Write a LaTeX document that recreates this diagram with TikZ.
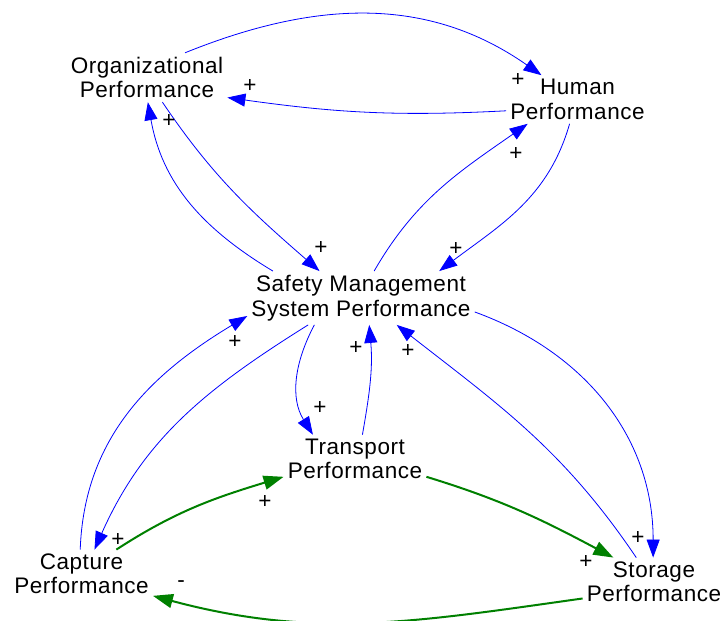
\documentclass[tikz,border=0pt]{standalone}
\usepackage{fontspec}
\setmainfont{Liberation Sans}[LetterSpace=2.5]
\usetikzlibrary{arrows.meta}
\definecolor{loopblue}{RGB}{0,0,255}
\definecolor{loopgreen}{RGB}{0,128,0}
\begin{document}
\begin{tikzpicture}[x=1pt,y=1pt,
    var/.style={align=center,inner sep=4pt,font=\fontsize{22.5}{24.5}\selectfont},
    sign/.style={inner sep=0pt,font=\fontsize{22.5}{24.5}\selectfont},
    link/.style={draw=loopblue,line width=0.8pt,-{Triangle[length=18pt,width=13pt]}},
    flow/.style={draw=loopgreen,line width=2pt,-{Triangle[length=20pt,width=14pt]}}]
      \useasboundingbox (0,0) rectangle (726,621);
      \draw
        (147,543.5) node[var] (org){Organizational\\Performance}
        (577.5,521.5) node[var] (human){Human\\Performance}
        (361,323) node[var] (sms){Safety Management\\System Performance}
        (355,162) node[var] (transport){Transport\\Performance}
        (81.5,47) node[var] (capture){Capture\\Performance}
        (654,39) node[var] (storage){Storage\\Performance};
      \begin{scope}
        \draw[link] (org.33) to[out=22,in=145] (human.146);
        \draw[link] (human.189) to[out=183,in=-8] (org.-14);
        \draw[link] (org.-58) to[out=-56,in=139] (sms.147);
        \draw[link] (sms.163) to[out=149,in=-80] (org.-88);
        \draw[link] (sms.64) to[out=60,in=215] (human.206);
        \draw[link] (human.-108) to[out=-106,in=37] (sms.19);
        \draw[link] (capture.93) to[out=88,in=211] (sms.189);
        \draw[link] (sms.207) to[out=212,in=66] (capture.62);
        \draw[link] (sms.210) to[out=242,in=122] (transport.150);
        \draw[link] (transport.73) to[out=80,in=-85] (sms.-73);
        \draw[link] (storage.126) to[out=124,in=-38] (sms.-37);
        \draw[link] (sms.-7) to[out=-20,in=90] (storage.92);
        \draw[flow] (capture.35) to[out=33,in=197] (transport.194);
        \draw[flow] (transport.-14) to[out=-17,in=152] (storage.149);
        \draw[flow] (storage.193) to[out=188,in=-15] (capture.-17);
      \end{scope}
      \node[sign] (p1) at (518,541) {+};
      \node[sign] (p2) at (250,535) {+};
      \node[sign] (p3) at (169,500) {+};
      \node[sign] (p4) at (321,373) {+};
      \node[sign] (p5) at (516,467) {+};
      \node[sign] (p6) at (456,372) {+};
      \node[sign] (p7) at (235,279) {+};
      \node[sign] (p8) at (356,273) {+};
      \node[sign] (p9) at (408,270) {+};
      \node[sign] (p10) at (320,213) {+};
      \node[sign] (p11) at (265,119) {+};
      \node[sign] (p12) at (118,81) {+};
      \node[sign] (p13) at (638,83) {+};
      \node[sign] (p14) at (586,59) {+};
      \node[sign] (m1) at (181,37) {-};
    \end{tikzpicture}
\end{document}
